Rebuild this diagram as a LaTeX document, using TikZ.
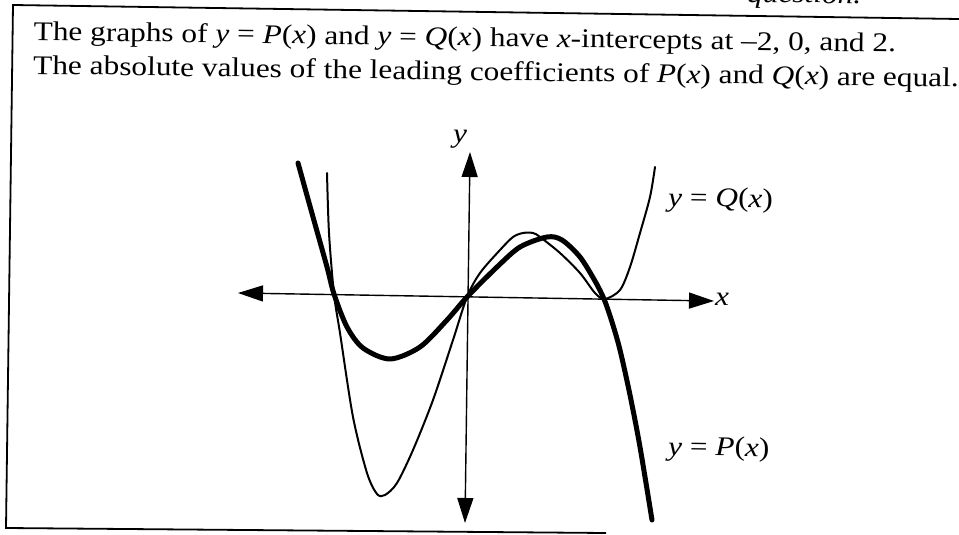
\documentclass[tikz,border=0pt]{standalone}
\usepackage{fontspec}
\setmainfont[FakeStretch=1.16]{Liberation Serif}
\usetikzlibrary{arrows.meta}
\begin{document}
\begin{tikzpicture}[x=1pt,y=-1pt,
  txt/.style={font=\fontsize{27}{34}\selectfont, inner sep=0pt, anchor=base west, rotate=-0.8},
  axislbl/.style={font=\fontsize{27}{30}\selectfont\itshape, inner sep=0pt},
  axis/.style={line width=1.4pt, {Triangle[length=25pt,width=16pt]}-{Triangle[length=25pt,width=16pt]}},
  framel/.style={line width=1.8pt},
  pcurve/.style={line width=5pt, line cap=round, line join=round},
  qcurve/.style={line width=2pt, line cap=round, line join=round}]
\useasboundingbox (0,0) rectangle (959,535);
% cut-off line above the box
\begin{scope}
\clip (0,0) rectangle (959,535);
\node[txt, font=\fontsize{27}{30}\selectfont\itshape] (frag) at (747,2) {question.};
\end{scope}
% frame
\coordinate (fr) at (959,19);
\coordinate (ftl) at (13,5);
\coordinate (fbl) at (6,528);
\coordinate (fbr) at (606,533);
\draw[framel] (fr) -- (ftl) -- (fbl) -- (fbr);
% text (base anchor = baseline of the last line)
\node[txt, align=left] (info) at (33,74) {The graphs of \textit{y} = \textit{P}(\textit{x}) and \textit{y} = \textit{Q}(\textit{x}) have \textit{x}-intercepts at –2, 0, and 2.\\
The absolute values of the leading coefficients of \textit{P}(\textit{x}) and \textit{Q}(\textit{x}) are equal.};
% axes
\coordinate (xl) at (238,293);
\coordinate (xr) at (714,301);
\coordinate (yt) at (470,152);
\coordinate (yb) at (465,523);
\draw[axis] (xl) -- (xr);
\draw[axis] (yt) -- (yb);
\node[axislbl] (xlbl) at (722,299) {x};
\node[axislbl] (ylbl) at (460,139) {y};
% Q(x): thin
\draw[qcurve] plot[smooth, tension=0.5] coordinates {
 (327,173) (329,233) (334,294) (340,333) (353,417) (367,473) (377,494) (385,495)
 (397,483) (413,450) (433,400) (453,340) (467,297) (480,273) (500,250) (513,237)
 (523,233) (533,233) (540,237) (560,253) (580,273) (595,293) (605,299) (620,290)
 (630,267) (640,233) (650,197) (655,167)};
% P(x): thick
\draw[pcurve] plot[smooth, tension=0.5] coordinates {
 (298,163) (313,217) (327,267) (334,294) (347,327) (363,348) (390,359) (420,347)
 (447,320) (467,297) (497,267) (520,247) (547,237) (562,240) (580,257) (595,281)
 (604,299) (612,322) (620,350) (630,395) (640,447) (652,520)};
% curve labels
\node[txt] (lblQ) at (668,206) {\textit{y} = \textit{Q}(\textit{x})};
\node[txt] (lblP) at (668,455) {\textit{y} = \textit{P}(\textit{x})};
\end{tikzpicture}
\end{document}
